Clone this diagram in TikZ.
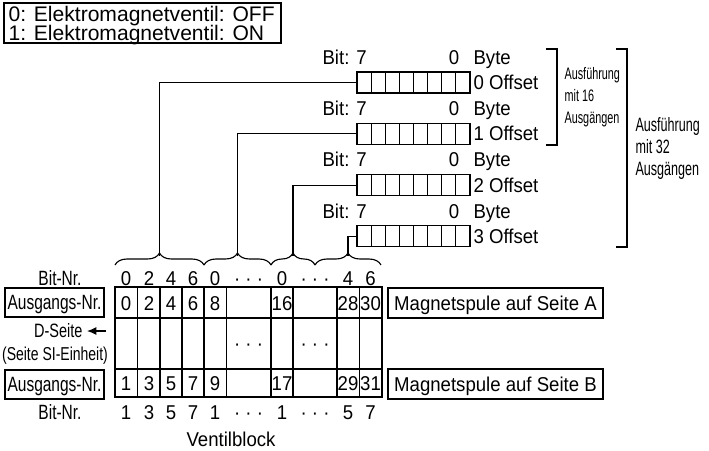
\documentclass[tikz,border=0pt]{standalone}
\usepackage{fontspec}
\setmainfont{Liberation Sans}
\newfontfamily\mainf[FakeStretch=0.93]{Liberation Sans}
\newfontfamily\narrowf[FakeStretch=0.75]{Liberation Sans}
\newfontfamily\condf[FakeStretch=0.65]{Liberation Sans}
\usetikzlibrary{fit,decorations.pathreplacing,arrows.meta}
\begin{document}
\begin{tikzpicture}[x=0.75pt,y=-0.75pt, line width=0.85pt,
  txt/.style={font=\fontsize{15}{18}\mainf, inner sep=0, text height=10.7pt, text depth=0pt},
  bigtxt/.style={font=\fontsize{15.8}{19}\selectfont, inner sep=0, text height=11.3pt, text depth=0pt},
  ntxt/.style={font=\fontsize{15.5}{18}\narrowf, inner sep=0, text height=11.1pt, text depth=0pt},
  smalltxt/.style={font=\fontsize{12.5}{14}\condf, inner sep=0, anchor=base west},
  midtxt/.style={font=\fontsize{14.5}{17}\condf, inner sep=0, anchor=base west},
  frame/.style={draw, inner sep=0},
  brc/.style={decorate, decoration={brace, amplitude=9}}]
\useasboundingbox (0,0) rectangle (709,450);

% legend
\node[frame, fit={(4,3) (281,43)}] (legend) {};
\node[bigtxt, anchor=west] (l0) at (8,14) {0: Elektromagnetventil: OFF};
\node[bigtxt, anchor=west] (l1) at (8,33) {1: Elektromagnetventil: ON};

% byte registers
\foreach \k in {0,...,3} {
  \pgfmathsetmacro\yt{72+51.3*\k}
  \pgfmathsetmacro\yb{93+51.3*\k}
  \coordinate (p1) at (357,\yt);
  \coordinate (p2) at (470,\yb);
  \node[frame, fit=(p1) (p2)] (b\k) {};
  \foreach \i in {1,...,7} \draw ({357+\i*14.125},\yt) -- ({357+\i*14.125},\yb);
  \node[txt, anchor=west] (bit\k) at (322,{\yt-15}) {Bit: 7};
  \node[txt] (zero\k) at (454,{\yt-15}) {0};
  \node[txt, anchor=west] (byte\k) at (473,{\yt-15}) {Byte};
  \node[txt, anchor=west] (off\k) at (473,{\yt+10.5}) {\k\ Offset};
}

% brackets
\draw (546,49) -- (557,49) -- (557,145) -- (546,145);
\draw (616,49) -- (627,49) -- (627,247) -- (616,247);
\node[smalltxt] (a16a) at (564,79) {Ausführung};
\node[smalltxt] (a16b) at (564,101) {mit 16};
\node[smalltxt] (a16c) at (564,123) {Ausgängen};
\node[midtxt] (a32a) at (635,131) {Ausführung};
\node[midtxt] (a32b) at (635,153) {mit 32};
\node[midtxt] (a32c) at (635,175) {Ausgängen};

% braces
\draw[brc] (115,265) -- (204,265);
\draw[brc] (204,265) -- (271,265);
\draw[brc] (271,265) -- (315,265);
\draw[brc] (315,265) -- (381,265);
\coordinate (t0) at (159.5,256);
\coordinate (t1) at (237.5,256);
\coordinate (t2) at (293,256);
\coordinate (t3) at (348,256);
\draw (t0) |- (b0.west);
\draw (t1) |- (b1.west);
\draw (t2) |- (b2.west);
\draw (t3) |- (b3.west);

% bit numbers
\node[ntxt] (bnt) at (60,278) {Bit-Nr.};
\node[ntxt] (bnb) at (60,412) {Bit-Nr.};
\foreach \x/\t [count=\n] in {126/0,149/2,171/4,193/6,215/0,248.5/{· · ·},282/0,315/{· · ·},348/4,370.5/6}
  \node[txt] (tb\n) at (\x,278) {\t};
\foreach \x/\t [count=\n] in {126/1,149/3,171/5,193/7,215/1,248.5/{· · ·},282/1,315/{· · ·},348/5,370.5/7}
  \node[txt] (bb\n) at (\x,412) {\t};

% table
\node[frame, fit={(115,287) (382,397)}] (tab) {};
\draw (115,318) -- (382,318);
\draw (115,369) -- (382,369);
\foreach \x in {137.5,160,182,204,226.5,271,293,337,359.5}
  \draw (\x,287) -- (\x,397);
\foreach \x/\t [count=\n] in {126/0,149/2,171/4,193/6,215/8,282/16,348/28,370.5/30}
  \node[txt] (ra\n) at (\x,303) {\t};
\foreach \x/\t [count=\n] in {126/1,149/3,171/5,193/7,215/9,282/17,348/29,370.5/31}
  \node[txt] (rb\n) at (\x,383.5) {\t};
\node[txt] (d1) at (248.5,343) {· · ·};
\node[txt] (d2) at (315,343) {· · ·};

% left labels
\node[frame, fit={(5,288) (104,317)}] (agA) {};
\node[ntxt] (agAt) at (agA.center) {Ausgangs-Nr.};
\node[frame, fit={(5,370) (104,399)}] (agB) {};
\node[ntxt] (agBt) at (agB.center) {Ausgangs-Nr.};
\node[ntxt, font=\fontsize{14.5}{17}\narrowf, text height=10.4pt, anchor=east] (dseite) at (83,331) {D-Seite};
\coordinate (arS) at (106,331);
\coordinate (arE) at (87,331);
\draw[-{Latex[length=7pt,width=6pt]}] (arS) -- (arE);
\node[ntxt, font=\fontsize{14}{16}\narrowf, text height=10pt] (si) at (55,354) {(Seite SI-Einheit)};

% right labels
\node[frame, fit={(388,288) (603,318)}] (msA) {};
\node[txt] (msAt) at (msA.center) {Magnetspule auf Seite A};
\node[frame, fit={(388,369) (603,399)}] (msB) {};
\node[txt] (msBt) at (msB.center) {Magnetspule auf Seite B};

\node[txt] (vb) at (231,439) {Ventilblock};
\end{tikzpicture}
\end{document}
